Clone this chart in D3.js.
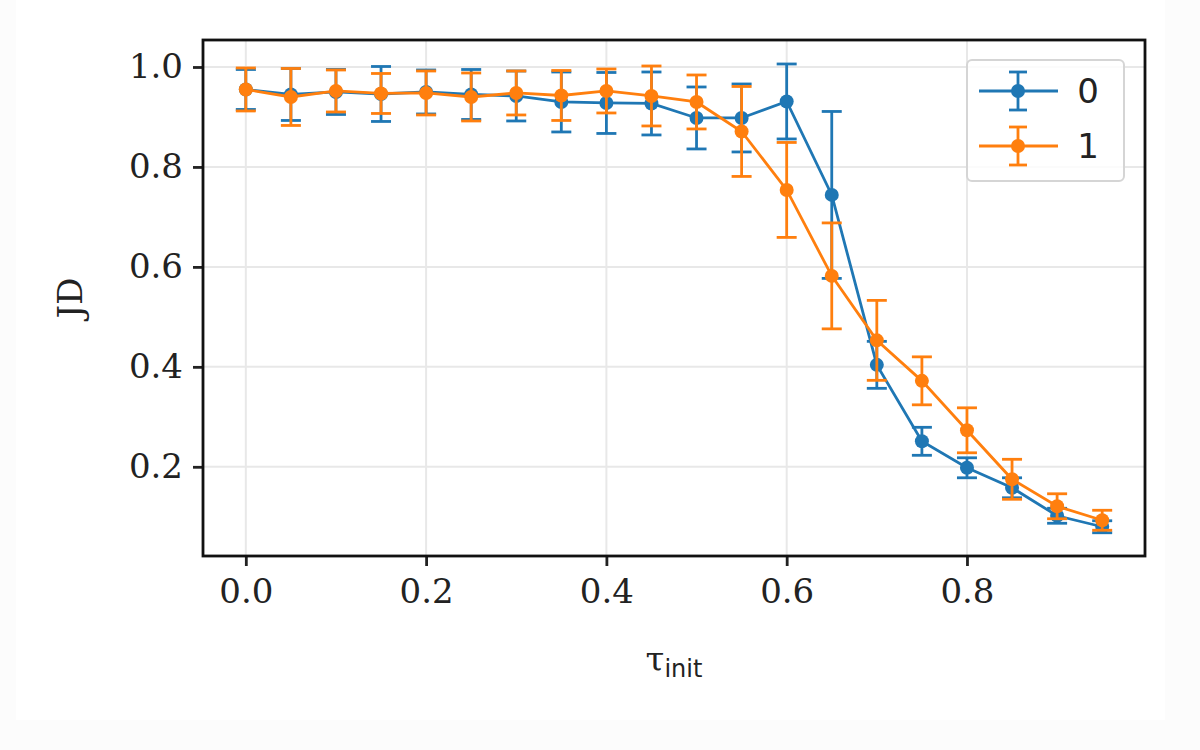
<!DOCTYPE html>
<html>
<head>
<meta charset="utf-8">
<script src="https://cdn.jsdelivr.net/npm/d3@7"></script>
<style>
  body { margin: 0; background: #fcfcfc; }
  svg { display: block; }
</style>
</head>
<body>
<div id="vis"></div>
<script>
const FRAME_WIDTH = 1200;
const FRAME_HEIGHT = 750;
const MARGINS = {left: 203, right: 55, top: 40, bottom: 194};

// data
const tau = [0.0, 0.05, 0.1, 0.15, 0.2, 0.25, 0.3, 0.35, 0.4, 0.45,
             0.5, 0.55, 0.6, 0.65, 0.7, 0.75, 0.8, 0.85, 0.9, 0.95];
const jd0 = [0.955, 0.945, 0.95, 0.946, 0.95, 0.945, 0.942, 0.93, 0.928, 0.927,
             0.898, 0.898, 0.931, 0.744, 0.404, 0.251, 0.198, 0.158, 0.102, 0.08];
const err0 = [0.04, 0.052, 0.045, 0.055, 0.044, 0.05, 0.05, 0.06, 0.061, 0.063,
              0.062, 0.068, 0.075, 0.167, 0.047, 0.028, 0.02, 0.02, 0.015, 0.012];
const jd1 = [0.955, 0.94, 0.952, 0.947, 0.948, 0.94, 0.948, 0.943, 0.952, 0.942,
             0.93, 0.871, 0.754, 0.582, 0.453, 0.372, 0.273, 0.175, 0.121, 0.093];
const err1 = [0.043, 0.057, 0.042, 0.04, 0.044, 0.048, 0.044, 0.05, 0.044, 0.06,
              0.054, 0.09, 0.095, 0.106, 0.08, 0.048, 0.045, 0.04, 0.025, 0.02];
const xTicks = [0.0, 0.2, 0.4, 0.6, 0.8];
const yTicks = [0.2, 0.4, 0.6, 0.8, 1.0];
const seriesNames = ["0", "1"];
const colors = ["#1f77b4", "#ff7f0e"];

const series = [
  {name: seriesNames[0], color: colors[0], values: tau.map((t, i) => ({x: t, y: jd0[i], e: err0[i]}))},
  {name: seriesNames[1], color: colors[1], values: tau.map((t, i) => ({x: t, y: jd1[i], e: err1[i]}))}
];

const W = FRAME_WIDTH - MARGINS.left - MARGINS.right;
const H = FRAME_HEIGHT - MARGINS.top - MARGINS.bottom;
const LW = 2.8;

const svg = d3.select("#vis")
  .append("svg")
    .attr("width", FRAME_WIDTH)
    .attr("height", FRAME_HEIGHT);

// figure area
svg.append("rect")
  .attr("x", 16).attr("y", 0)
  .attr("width", 1149).attr("height", 720)
  .attr("fill", "#ffffff");

const x = d3.scaleLinear().domain([-0.0475, 0.9975]).range([0, W]);
const y = d3.scaleLinear().domain([0.0215, 1.054]).range([H, 0]);

const g = svg.append("g")
  .attr("transform", `translate(${MARGINS.left},${MARGINS.top})`);

// grid
g.append("g")
  .selectAll("line")
  .data(xTicks)
  .join("line")
    .attr("x1", d => x(d)).attr("x2", d => x(d))
    .attr("y1", 0).attr("y2", H)
    .attr("stroke", "#e8e8e8")
    .attr("stroke-width", 2);

g.append("g")
  .selectAll("line")
  .data(yTicks)
  .join("line")
    .attr("x1", 0).attr("x2", W)
    .attr("y1", d => y(d)).attr("y2", d => y(d))
    .attr("stroke", "#e8e8e8")
    .attr("stroke-width", 2);

// axes
const xAxis = g.append("g")
  .attr("transform", `translate(0,${H})`)
  .call(d3.axisBottom(x).tickValues(xTicks).tickFormat(d3.format(".1f"))
    .tickSize(10).tickPadding(13));
const yAxis = g.append("g")
  .call(d3.axisLeft(y).tickValues(yTicks).tickFormat(d3.format(".1f"))
    .tickSize(10).tickPadding(10));

[xAxis, yAxis].forEach(a => {
  a.select(".domain").remove();
  a.selectAll(".tick line").attr("stroke", "#222").attr("stroke-width", 2.8);
  a.selectAll(".tick text")
    .attr("fill", "#222")
    .style("font-family", "'DejaVu Serif', serif")
    .style("font-size", "34px");
});

// series
const line = d3.line().x(d => x(d.x)).y(d => y(d.y));
const capHalf = 10;

series.forEach(s => {
  const sg = g.append("g");
  sg.selectAll("line.bar")
    .data(s.values)
    .join("line")
      .attr("class", "bar")
      .attr("x1", d => x(d.x)).attr("x2", d => x(d.x))
      .attr("y1", d => y(d.y - d.e)).attr("y2", d => y(d.y + d.e))
      .attr("stroke", s.color).attr("stroke-width", LW);
  ["lo", "hi"].forEach(k => {
    sg.selectAll("line.cap" + k)
      .data(s.values)
      .join("line")
        .attr("class", "cap" + k)
        .attr("x1", d => x(d.x) - capHalf).attr("x2", d => x(d.x) + capHalf)
        .attr("y1", d => y(k === "lo" ? d.y - d.e : d.y + d.e))
        .attr("y2", d => y(k === "lo" ? d.y - d.e : d.y + d.e))
        .attr("stroke", s.color).attr("stroke-width", LW);
  });
  sg.append("path")
    .datum(s.values)
    .attr("d", line)
    .attr("fill", "none")
    .attr("stroke", s.color)
    .attr("stroke-width", LW);
  sg.selectAll("circle")
    .data(s.values)
    .join("circle")
      .attr("cx", d => x(d.x)).attr("cy", d => y(d.y))
      .attr("r", 7)
      .attr("fill", s.color);
});

// frame
g.append("rect")
  .attr("width", W).attr("height", H)
  .attr("fill", "none")
  .attr("stroke", "#111")
  .attr("stroke-width", 2.8);

// axis labels
svg.append("text")
  .attr("transform", `translate(82,${MARGINS.top + H / 2}) rotate(-90)`)
  .attr("text-anchor", "middle")
  .style("font-family", "'DejaVu Serif', serif")
  .style("font-size", "34px")
  .attr("fill", "#222")
  .text("JD");

const xl = svg.append("text")
  .attr("x", MARGINS.left + W / 2)
  .attr("y", 671)
  .attr("text-anchor", "middle")
  .attr("fill", "#222");
xl.append("tspan")
  .style("font-family", "'DejaVu Serif', serif")
  .style("font-size", "34px")
  .text("τ");
xl.append("tspan")
  .attr("dy", 6)
  .style("font-family", "'DejaVu Sans', sans-serif")
  .style("font-size", "24px")
  .text("init");

// legend
const lg = svg.append("g").attr("transform", "translate(967,60)");
lg.append("rect")
  .attr("width", 157).attr("height", 121)
  .attr("rx", 5)
  .attr("fill", "rgba(255,255,255,0.8)")
  .attr("stroke", "#d5d5d5")
  .attr("stroke-width", 2);

const rows = lg.selectAll("g.row")
  .data(series)
  .join("g")
    .attr("class", "row")
    .attr("transform", (d, i) => `translate(0,${31 + i * 55})`);
rows.append("line")
  .attr("x1", 12).attr("x2", 91)
  .attr("stroke", d => d.color).attr("stroke-width", LW);
rows.append("line")
  .attr("x1", 51).attr("x2", 51).attr("y1", -19).attr("y2", 19)
  .attr("stroke", d => d.color).attr("stroke-width", LW);
rows.append("line")
  .attr("x1", 42).attr("x2", 60).attr("y1", -19).attr("y2", -19)
  .attr("stroke", d => d.color).attr("stroke-width", LW);
rows.append("line")
  .attr("x1", 42).attr("x2", 60).attr("y1", 19).attr("y2", 19)
  .attr("stroke", d => d.color).attr("stroke-width", LW);
rows.append("circle")
  .attr("cx", 51).attr("r", 7)
  .attr("fill", d => d.color);
rows.append("text")
  .attr("x", 121).attr("dy", "0.36em")
  .attr("text-anchor", "middle")
  .style("font-family", "'DejaVu Sans', sans-serif")
  .style("font-size", "34px")
  .attr("fill", "#222")
  .text(d => d.name);
</script>
</body>
</html>
